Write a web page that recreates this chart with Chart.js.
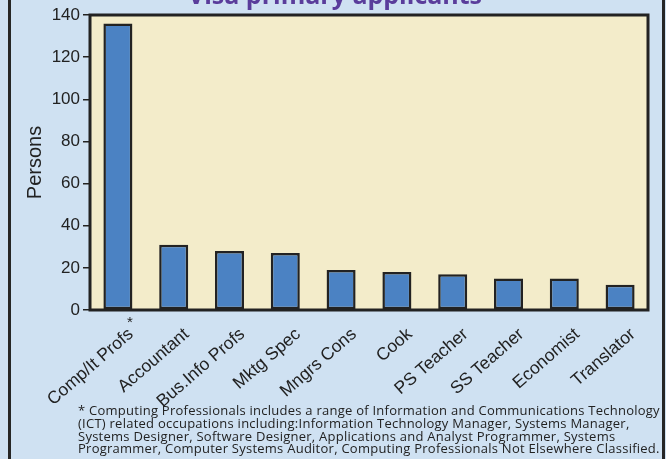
<!DOCTYPE html>
<html>
<head>
<meta charset="utf-8">
<script src="https://cdn.jsdelivr.net/npm/chart.js@4"></script>
<style>
  html, body { margin: 0; padding: 0; }
  body { width: 666px; height: 459px; overflow: hidden; background: #cfe1f2; position: relative; }
  .frame { position: absolute; left: 8px; top: -10px; width: 651px; height: 480px; border: 3px solid #262626; background: #cfe1f2; }
  .wrap { position: absolute; left: 0; top: -18px; width: 666px; height: 434px; }
  .note { position: absolute; left: 78px; top: 404px; font-family: 'Open Sans', sans-serif; font-size: 13px; letter-spacing: 0.25px; line-height: 12.8px; color: #222; white-space: nowrap; }
</style>
</head>
<body>
<div class="frame"></div>
<div class="wrap"><canvas id="occChart" width="666" height="434"></canvas></div>
<div class="note">
* Computing Professionals includes a range of Information and Communications Technology<br>
(ICT) related occupations including:Information Technology Manager, Systems Manager,<br>
Systems Designer, Software Designer, Applications and Analyst Programmer, Systems<br>
Programmer, Computer Systems Auditor, Computing Professionals Not Elsewhere Classified.
</div>
<script>
// Data
const occupations = ['Comp/It Profs', 'Accountant', 'Bus.Info Profs', 'Mktg Spec', 'Mngrs Cons',
    'Cook', 'PS Teacher', 'SS Teacher', 'Economist', 'Translator'];
const persons = [136, 31, 28, 27, 19, 18, 17, 15, 15, 12];
const yTicks = [0, 20, 40, 60, 80, 100, 120, 140];
const footnoteMark = '*';   // goes on the first category

document.addEventListener('DOMContentLoaded', function () {
    const ctx = document.getElementById('occChart').getContext('2d');

    // cream plot background + dark frame round the plot area
    const plotFrame = {
        id: 'plotFrame',
        beforeDatasetsDraw(chart) {
            const a = chart.chartArea;
            const c = chart.ctx;
            c.save();
            c.fillStyle = '#f3ecca';
            c.fillRect(a.left, a.top, a.right - a.left, a.bottom - a.top);
            c.restore();
        },
        afterDatasetsDraw(chart) {
            const a = chart.chartArea;
            const c = chart.ctx;
            c.save();
            c.strokeStyle = '#222';
            c.lineWidth = 3;
            c.strokeRect(a.left, a.top, a.right - a.left, a.bottom - a.top);
            c.restore();
        }
    };

    // raised asterisk after the first label
    const labelMark = {
        id: 'labelMark',
        afterDraw(chart) {
            const xs = chart.scales.x;
            const c = chart.ctx;
            c.save();
            c.fillStyle = '#222';
            c.font = '15px "Liberation Sans"';
            c.textAlign = 'center';
            c.textBaseline = 'middle';
            c.fillText(footnoteMark, xs.getPixelForTick(0) + 12, xs.top + 13);
            c.restore();
        }
    };

    new Chart(ctx, {
        type: 'bar',
        data: {
            labels: occupations,
            datasets: [{
                data: persons,
                backgroundColor: '#4b82c3',
                borderColor: '#222',
                borderWidth: 2.5,
                borderSkipped: false,
                barPercentage: 0.52,
                categoryPercentage: 1
            }]
        },
        options: {
            responsive: false,
            devicePixelRatio: 1,
            animation: false,
            layout: { padding: { left: 22, right: 18, top: 0, bottom: 0 } },
            plugins: {
                legend: { display: false },
                tooltip: { enabled: false },
                title: {
                    display: true,
                    text: 'Visa primary applicants',
                    color: '#5a3d9b',
                    font: { family: 'Open Sans', size: 25, weight: 'bold' },
                    padding: { top: 0, bottom: 3 }
                }
            },
            scales: {
                x: {
                    grid: { display: false },
                    border: { display: false },
                    afterFit: function (scale) { scale.height = 106; },
                    ticks: {
                        autoSkip: false,
                        maxRotation: 41,
                        minRotation: 41,
                        labelOffset: 13,
                        padding: 6,
                        color: '#222',
                        font: { family: 'Liberation Sans', size: 17.5 }
                    }
                },
                y: {
                    min: 0,
                    max: 140,
                    afterFit: function (scale) { scale.width = 68; },
                    afterBuildTicks: function (scale) {
                        scale.ticks = yTicks.map(v => ({ value: v }));
                    },
                    grid: {
                        drawOnChartArea: false,
                        color: '#222',
                        lineWidth: 1.5,
                        tickLength: 7
                    },
                    border: { display: false },
                    ticks: {
                        padding: 3,
                        color: '#222',
                        font: { family: 'Liberation Sans', size: 17 }
                    },
                    title: {
                        display: true,
                        text: 'Persons',
                        color: '#222',
                        font: { family: 'Liberation Sans', size: 20 },
                        padding: { top: 1, bottom: 0 }
                    }
                }
            }
        },
        plugins: [plotFrame, labelMark]
    });
});
</script>
</body>
</html>
